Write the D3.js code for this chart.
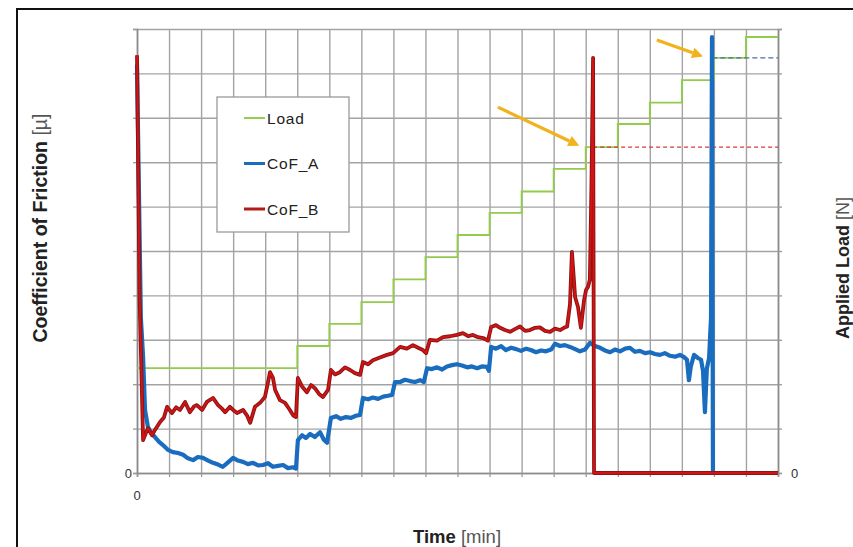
<!DOCTYPE html>
<html>
<head>
<meta charset="utf-8">
<script src="https://cdn.jsdelivr.net/npm/d3@7"></script>
<style>
  body { margin: 0; background: #fff; }
  svg { display: block; font-family: 'Liberation Sans', Arial, sans-serif; }
</style>
</head>
<body>
<div id="chart"></div>
<script>
// time in grid divisions (0..20), values in grid divisions (0..10)
let loadTimes = [0, 5, 6, 7, 8, 9, 10, 11, 12, 13, 14, 15, 16, 17, 18, 19, 20]
let loadValues = [2.36, 2.86, 3.36, 3.85, 4.36, 4.86, 5.36, 5.86, 6.34, 6.85, 7.34, 7.86, 8.34, 8.85, 9.35, 9.82, 9.82]

let cofBTimes = [0, 0.08, 0.19, 0.34, 0.47, 0.56, 0.72, 0.84, 0.94, 1.09, 1.22, 1.34, 1.5, 1.65, 1.78, 1.87,
  2.03, 2.18, 2.37, 2.53, 2.65, 2.75, 2.9, 3.03, 3.12, 3.31, 3.43, 3.53, 3.68, 3.84, 3.99, 4.09, 4.15, 4.24,
  4.31, 4.46, 4.62, 4.77, 4.87, 4.96, 5.02, 5.15, 5.3, 5.43, 5.55, 5.68, 5.8, 5.96, 6.05, 6.18, 6.33, 6.49,
  6.65, 6.8, 6.96, 7.05, 7.21, 7.36, 7.58, 7.8, 7.99, 8.21, 8.42, 8.61, 8.77, 8.92, 9.02, 9.14, 9.36, 9.55,
  9.77, 9.98, 10.17, 10.33, 10.48, 10.64, 10.8, 10.95, 11.05, 11.2, 11.33, 11.48, 11.64, 11.79, 11.95, 12.11,
  12.26, 12.42, 12.57, 12.73, 12.89, 13.04, 13.2, 13.32, 13.42, 13.51, 13.57, 13.67, 13.76, 13.85, 13.95,
  14.01, 14.07, 14.13, 14.18, 14.23, 14.26, 20]
let cofBValues = [9.41, 4.0, 0.74, 1.01, 0.85, 0.97, 1.15, 1.25, 1.49, 1.35, 1.48, 1.42, 1.6, 1.37, 1.5, 1.53,
  1.42, 1.6, 1.69, 1.53, 1.45, 1.37, 1.49, 1.4, 1.35, 1.42, 1.3, 1.13, 1.49, 1.58, 1.71, 2.05, 2.27, 2.15,
  1.87, 1.64, 1.58, 1.42, 1.3, 1.26, 2.14, 1.95, 1.82, 1.98, 1.91, 1.78, 1.71, 1.87, 2.32, 2.22, 2.27, 2.38,
  2.32, 2.25, 2.21, 2.5, 2.45, 2.54, 2.6, 2.66, 2.7, 2.84, 2.8, 2.88, 2.82, 2.77, 2.7, 3.0, 2.98, 3.06,
  3.08, 3.11, 3.15, 3.08, 3.11, 3.06, 3.04, 2.98, 3.29, 3.33, 3.27, 3.22, 3.18, 3.24, 3.3, 3.2,
  3.22, 3.27, 3.28, 3.2, 3.18, 3.25, 3.22, 3.27, 3.3, 3.8, 4.98, 3.96, 3.74, 3.27, 3.9,
  4.12, 4.19, 4.35, 6.5, 9.35, 0, 0]

let cofATimes = [0, 0.12, 0.19, 0.25, 0.34, 0.44, 0.56, 0.69, 0.81, 0.97, 1.12, 1.28, 1.44, 1.59, 1.75, 1.9,
  2.06, 2.22, 2.37, 2.53, 2.68, 2.84, 3.0, 3.15, 3.31, 3.46, 3.62, 3.78, 3.93, 4.09, 4.24, 4.4, 4.56, 4.71,
  4.87, 4.96, 5.02, 5.15, 5.27, 5.4, 5.55, 5.71, 5.83, 5.93, 6.05, 6.21, 6.36, 6.52, 6.68, 6.83, 6.96,
  7.05, 7.21, 7.36, 7.52, 7.68, 7.83, 7.96, 8.05, 8.21, 8.36, 8.52, 8.67, 8.83, 8.95, 9.05, 9.2, 9.36, 9.52,
  9.67, 9.83, 9.98, 10.14, 10.3, 10.45, 10.61, 10.76, 10.92, 10.98, 11.05, 11.2, 11.36, 11.51, 11.67, 11.83,
  11.98, 12.14, 12.29, 12.45, 12.61, 12.76, 12.92, 13.04, 13.2, 13.35, 13.51, 13.67, 13.82, 13.98, 14.13,
  14.29, 14.45, 14.6, 14.76, 14.91, 15.07, 15.23, 15.38, 15.54, 15.69, 15.85, 16.01, 16.16, 16.32, 16.47,
  16.63, 16.79, 16.94, 17.07, 17.16, 17.22, 17.28, 17.38, 17.5, 17.6, 17.66, 17.72, 17.78, 17.85, 17.91,
  17.94, 17.97, 20]
let cofAValues = [9.2, 3.5, 2.61, 1.42, 1.04, 0.9, 0.81, 0.7, 0.63, 0.52, 0.47, 0.45, 0.41, 0.33, 0.29, 0.36,
  0.34, 0.28, 0.23, 0.19, 0.14, 0.24, 0.34, 0.28, 0.25, 0.2, 0.23, 0.17, 0.18, 0.22, 0.14, 0.16, 0.18, 0.11,
  0.13, 0.1, 0.74, 0.85, 0.79, 0.88, 0.81, 0.92, 0.75, 0.68, 1.24, 1.28, 1.22, 1.26, 1.24, 1.29, 1.31,
  1.69, 1.66, 1.7, 1.67, 1.72, 1.74, 1.76, 2.05, 2.05, 2.1, 2.07, 2.05, 2.09, 2.05, 2.36, 2.34, 2.38, 2.33,
  2.4, 2.43, 2.45, 2.42, 2.38, 2.4, 2.36, 2.4, 2.39, 2.3, 2.84, 2.8, 2.86, 2.77, 2.82, 2.79,
  2.75, 2.8, 2.77, 2.72, 2.76, 2.74, 2.78, 2.91, 2.86, 2.88, 2.84, 2.79, 2.74, 2.78, 2.93,
  2.86, 2.82, 2.76, 2.72, 2.78, 2.74, 2.8, 2.82, 2.73, 2.75, 2.7, 2.72, 2.68, 2.66, 2.7,
  2.64, 2.62, 2.66, 2.61, 2.55, 2.09, 2.4, 2.66, 2.59, 2.55, 2.3, 1.37, 2.35, 2.59, 3.5,
  9.82, 0, 0]

// failure markers: dashed load level from failure time to the end
let failureB = { start: 14.23, level: 7.34 }
let failureA = { start: 17.95, level: 9.35 }

// annotation arrows [x1, y1, x2, y2] in grid units
let arrows = [
  [11.26, 8.24, 13.8, 7.37],
  [16.22, 9.75, 17.66, 9.38]
]

let legendNames = ['Load', 'CoF_A', 'CoF_B']
let legendColors = ['#8cc63e', '#1a6dbe', '#b51a1a']

let width = 853
let height = 547
let plot = { left: 137, right: 778, top: 29, bottom: 473 }

let svg = d3
  .select('#chart')
  .append('svg')
  .attr('width', width)
  .attr('height', height)

let xPositionScale = d3.scaleLinear().domain([0, 20]).range([plot.left, plot.right])
let yPositionScale = d3.scaleLinear().domain([0, 10]).range([plot.bottom, plot.top])
let yLoadScale = d3.scaleLinear().domain([0, 10]).range([plot.bottom, plot.top])

// outer frame (cropped on the right and bottom)
svg
  .append('rect')
  .attr('x', 17)
  .attr('y', 9)
  .attr('width', 900)
  .attr('height', 600)
  .attr('fill', 'none')
  .attr('stroke', '#111')
  .attr('stroke-width', 2)

// grid
let xAxis = d3
  .axisBottom(xPositionScale)
  .ticks(20)
  .tickSize(-(plot.bottom - plot.top))
  .tickFormat('')
svg
  .append('g')
  .attr('class', 'grid x-grid')
  .attr('transform', 'translate(0,' + plot.bottom + ')')
  .call(xAxis)

let yAxis = d3
  .axisLeft(yPositionScale)
  .ticks(10)
  .tickSize(-(plot.right - plot.left))
  .tickFormat('')
svg
  .append('g')
  .attr('class', 'grid y-grid')
  .attr('transform', 'translate(' + plot.left + ',0)')
  .call(yAxis)

svg.selectAll('.grid .domain').remove()
svg
  .selectAll('.grid line')
  .attr('stroke', '#a3a3a3')
  .attr('stroke-width', 1.4)

// small outer ticks
let xTicks = d3.axisBottom(xPositionScale).ticks(20).tickSize(4).tickFormat('')
svg
  .append('g')
  .attr('class', 'ticks')
  .attr('transform', 'translate(0,' + plot.bottom + ')')
  .call(xTicks)
let yTicksL = d3.axisLeft(yPositionScale).ticks(10).tickSize(4).tickFormat('')
svg
  .append('g')
  .attr('class', 'ticks')
  .attr('transform', 'translate(' + plot.left + ',0)')
  .call(yTicksL)
let yTicksR = d3.axisRight(yLoadScale).ticks(10).tickSize(4).tickFormat('')
svg
  .append('g')
  .attr('class', 'ticks')
  .attr('transform', 'translate(' + plot.right + ',0)')
  .call(yTicksR)
svg.selectAll('.ticks line').attr('stroke', '#999').attr('stroke-width', 1.3)
svg.selectAll('.ticks .domain').attr('stroke', '#8a8a8a').attr('stroke-width', 1.6)

// zero labels
svg
  .append('text')
  .attr('x', plot.left - 5)
  .attr('y', yPositionScale(0) + 5)
  .attr('text-anchor', 'end')
  .attr('font-size', 13)
  .attr('fill', '#333')
  .text('0')
svg
  .append('text')
  .attr('x', xPositionScale(0))
  .attr('y', plot.bottom + 27)
  .attr('text-anchor', 'middle')
  .attr('font-size', 13)
  .attr('fill', '#333')
  .text('0')
svg
  .append('text')
  .attr('x', plot.right + 13)
  .attr('y', yLoadScale(0) + 5)
  .attr('text-anchor', 'start')
  .attr('font-size', 13)
  .attr('fill', '#333')
  .text('0')

// load step line
let loadData = loadTimes.map((t, i) => ({ t: t, v: loadValues[i] }))
let loadLine = d3
  .line()
  .x(d => xPositionScale(d.t))
  .y(d => yLoadScale(d.v))
  .curve(d3.curveStepAfter)
svg
  .append('path')
  .datum(loadData)
  .attr('d', loadLine)
  .attr('fill', 'none')
  .attr('stroke', '#93cb4c')
  .attr('stroke-width', 1.8)

// dashed failure levels
svg
  .append('line')
  .attr('x1', xPositionScale(failureB.start))
  .attr('x2', xPositionScale(20))
  .attr('y1', yLoadScale(failureB.level))
  .attr('y2', yLoadScale(failureB.level))
  .attr('stroke', '#d9383a')
  .attr('stroke-width', 1.2)
  .attr('stroke-dasharray', '4,3')
svg
  .append('line')
  .attr('x1', xPositionScale(failureA.start))
  .attr('x2', xPositionScale(20))
  .attr('y1', yLoadScale(failureA.level))
  .attr('y2', yLoadScale(failureA.level))
  .attr('stroke', '#4a6f9a')
  .attr('stroke-width', 1.4)
  .attr('stroke-dasharray', '5,3')

let cofLine = d3
  .line()
  .x(d => xPositionScale(d.t))
  .y(d => yPositionScale(d.v))

// CoF_A
let cofAData = cofATimes.map((t, i) => ({ t: t, v: cofAValues[i] }))
svg
  .append('path')
  .datum(cofAData)
  .attr('d', cofLine)
  .attr('fill', 'none')
  .attr('stroke', '#1a6dbe')
  .attr('stroke-width', 4.2)
  .attr('stroke-linejoin', 'round')

// CoF_B
let cofBData = cofBTimes.map((t, i) => ({ t: t, v: cofBValues[i] }))
svg
  .append('path')
  .datum(cofBData)
  .attr('d', cofLine)
  .attr('fill', 'none')
  .attr('stroke', '#8c1414')
  .attr('stroke-width', 3.8)
  .attr('stroke-linejoin', 'round')
svg
  .append('path')
  .datum(cofBData)
  .attr('d', cofLine)
  .attr('fill', 'none')
  .attr('stroke', '#d41414')
  .attr('stroke-width', 1.8)
  .attr('stroke-linejoin', 'round')

// arrows
arrows.forEach(a => {
  let x1 = xPositionScale(a[0])
  let y1 = yPositionScale(a[1])
  let x2 = xPositionScale(a[2])
  let y2 = yPositionScale(a[3])
  let ang = Math.atan2(y2 - y1, x2 - x1)
  let len = 11
  let bx = x2 - len * Math.cos(ang)
  let by = y2 - len * Math.sin(ang)
  svg
    .append('line')
    .attr('x1', x1)
    .attr('y1', y1)
    .attr('x2', bx)
    .attr('y2', by)
    .attr('stroke', '#f2b21b')
    .attr('stroke-width', 3.2)
  let w = 5.5
  let pts = [
    [x2, y2],
    [bx + w * Math.sin(ang), by - w * Math.cos(ang)],
    [bx - w * Math.sin(ang), by + w * Math.cos(ang)]
  ]
  svg
    .append('polygon')
    .attr('points', pts.map(p => p.join(',')).join(' '))
    .attr('fill', '#f2b21b')
})

// legend
let legend = svg.append('g').attr('transform', 'translate(217,97)')
legend
  .append('rect')
  .attr('width', 132)
  .attr('height', 135)
  .attr('fill', '#fff')
  .attr('stroke', '#9a9a9a')
  .attr('stroke-width', 1.3)
legendNames.forEach((name, i) => {
  let y = 21 + i * 45.5
  legend
    .append('line')
    .attr('x1', 27)
    .attr('x2', 48)
    .attr('y1', y)
    .attr('y2', y)
    .attr('stroke', legendColors[i])
    .attr('stroke-width', i === 0 ? 1.8 : 3)
  legend
    .append('text')
    .attr('x', 50)
    .attr('y', y + 5.5)
    .attr('font-size', 15.5)
    .attr('letter-spacing', 0.8)
    .attr('fill', '#222')
    .text(name)
})

// axis titles
let yTitle = svg
  .append('text')
  .attr('transform', 'translate(47,228) rotate(-90)')
  .attr('text-anchor', 'middle')
  .attr('font-size', 19.5)
  .attr('fill', '#222')
yTitle.append('tspan').attr('font-weight', 'bold').text('Coefficient of Friction ')
yTitle.append('tspan').attr('fill', '#555').text('[µ]')

let rTitle = svg
  .append('text')
  .attr('transform', 'translate(849,268) rotate(-90)')
  .attr('text-anchor', 'middle')
  .attr('font-size', 18)
  .attr('fill', '#222')
rTitle.append('tspan').attr('font-weight', 'bold').text('Applied Load ')
rTitle.append('tspan').attr('fill', '#555').text('[N]')

let xTitle = svg
  .append('text')
  .attr('x', 457)
  .attr('y', 543)
  .attr('text-anchor', 'middle')
  .attr('font-size', 18.5)
  .attr('fill', '#222')
xTitle.append('tspan').attr('font-weight', 'bold').text('Time ')
xTitle.append('tspan').attr('fill', '#555').text('[min]')
</script>
</body>
</html>
